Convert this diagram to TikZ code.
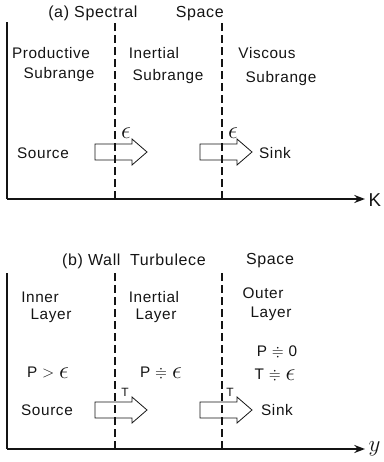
\documentclass[tikz,border=0pt]{standalone}
\usepackage{amsmath,amssymb}
\usepackage{fontspec}
\setmainfont[LetterSpace=4]{Liberation Sans}
\usepackage{tikz}
\usetikzlibrary{arrows.meta}
\definecolor{figline}{RGB}{20,20,20}
\tikzset{
  ax/.style   ={draw=figline, line width=1.5pt},
  axa/.style  ={ax, -{Stealth[length=8pt,width=6pt]}},
  bnd/.style  ={draw=figline, line width=1.1pt, dash pattern=on 6pt off 3pt},
  flx/.style  ={draw=figline, line width=0.6pt, line join=miter},
  lab/.style  ={font=\fontsize{11.5}{12}\selectfont, inner sep=1pt, text=figline},
  labt/.style ={font=\fontsize{12}{13}\selectfont, inner sep=1pt, text=figline},
  labs/.style ={font=\fontsize{9}{10}\selectfont, inner sep=1pt, text=figline},
}
\newcommand{\eps}{\raisebox{-0.5pt}{\scalebox{1.55}{$\epsilon$}}}
\newcommand{\flux}[2]{% left end, tip (centre line at y=#2)
  \draw[flx] (#1,#2-8) -- (#1+37,#2-8) -- (#1+37,#2-13) -- (#1+52,#2)
    -- (#1+37,#2+13) -- (#1+37,#2+8) -- (#1,#2+8) -- cycle;}
\begin{document}
\begin{tikzpicture}[x=0.75pt,y=0.75pt]
  \useasboundingbox (0,0) rectangle (384,462);
  % (a) spectral space
  \begin{scope}[shift={(7,263)}]
  \draw[ax] (0,177) -- (0,0);
  \draw[axa] (0,0) -- (358,0);
  \node[lab,anchor=west] (ka) at (360,-1) {\fontsize{14}{14}\selectfont K};
  \draw[bnd] (108,0) -- (108,177);
  \draw[bnd] (215,0) -- (215,177);
  \node[labt] (ta) at (129,186) {(a) Spectral\hspace{2.4em}Space};
  \node[lab] (pa1) at (44,146) {Productive};
  \node[lab] (pa2) at (52,124) {Subrange};
  \node[lab] (ia1) at (147,146) {Inertial};
  \node[lab] (ia2) at (161,122) {Subrange};
  \node[lab] (va1) at (260,146) {Viscous};
  \node[lab] (va2) at (274,120) {Subrange};
  \node[lab] (srca) at (36,46) {Source};
  \node[lab] (snka) at (268,46) {Sink};
  \flux{88}{47}
  \flux{193}{47}
  \node[lab] (ea1) at (119,66) {\eps};
  \node[lab] (ea2) at (226,66) {\eps};
  \end{scope}
  % (b) wall turbulence space
  \begin{scope}[shift={(7,13)}]
  \draw[ax] (0,176) -- (0,0);
  \draw[axa] (0,0) -- (358,0);
  \node[lab,anchor=west] (yb) at (360,0) {\fontsize{17}{17}\selectfont$y$};
  \draw[bnd] (108,0) -- (108,176);
  \draw[bnd] (215,0) -- (215,176);
  \node[labt] (tb) at (127,188) {(b) Wall\hspace{0.6em}Turbulece};
  \node[labt] (tb2) at (263,188) {Space};
  \node[lab] (il1) at (33,152) {Inner};
  \node[lab] (il2) at (44,133) {Layer};
  \node[lab] (nl1) at (147,152) {Inertial};
  \node[lab] (nl2) at (149,133) {Layer};
  \node[lab] (ol1) at (256,156) {Outer};
  \node[lab] (ol2) at (264,135) {Layer};
  \node[lab] (pb1) at (41,76) {P $>$ \eps};
  \node[lab] (pb2) at (154,76) {P $\doteqdot$ \eps};
  \node[lab,inner sep=0pt] (pb3) at (270,97) {P $\doteqdot$ 0};
  \node[lab,inner sep=0pt] (pb4) at (268,74) {T $\doteqdot$ \eps};
  \node[lab] (srcb) at (40,39) {Source};
  \node[lab] (snkb) at (270,39) {Sink};
  \flux{88}{39}
  \flux{193}{39}
  \node[labs] (tb3) at (118,57) {T};
  \node[labs] (tb4) at (223,57) {T};
  \end{scope}
\end{tikzpicture}
\end{document}
